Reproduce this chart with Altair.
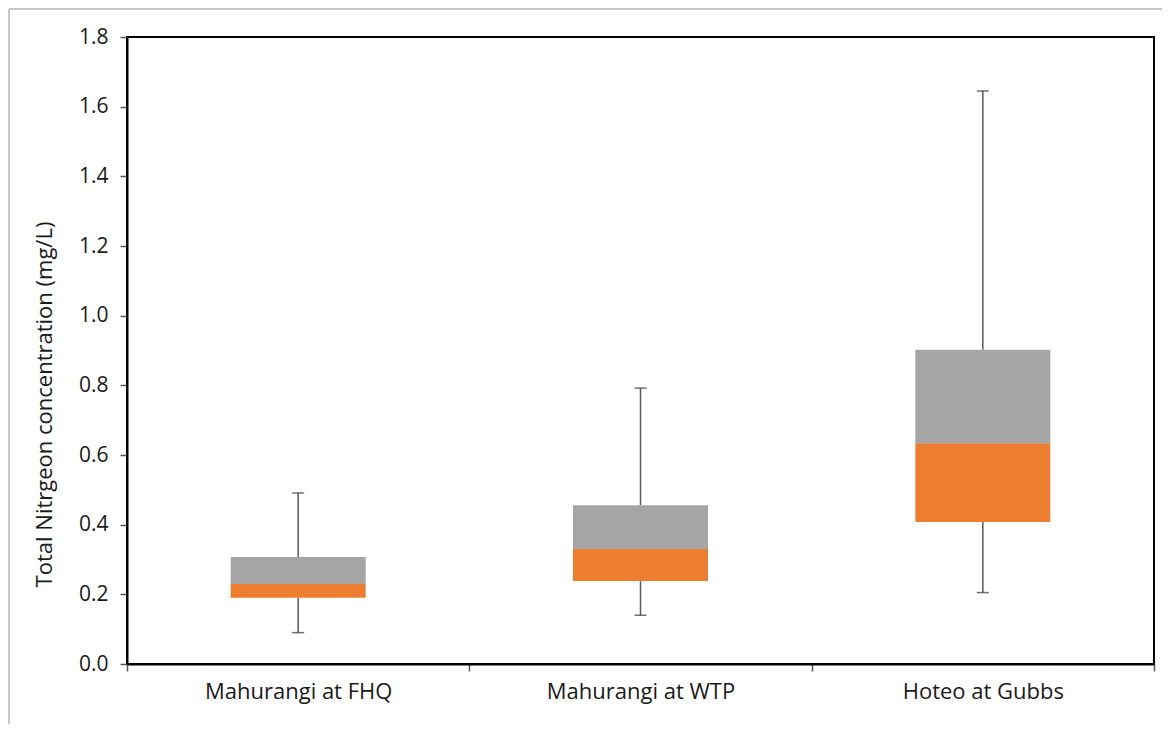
import altair as alt
import pandas as pd

sites = ["Mahurangi at FHQ", "Mahurangi at WTP", "Hoteo at Gubbs"]
mins = [0.09, 0.14, 0.205]
q1s = [0.19, 0.238, 0.408]
medians = [0.23, 0.33, 0.634]
q3s = [0.307, 0.456, 0.902]
maxs = [0.491, 0.792, 1.645]

df = pd.DataFrame({"site": sites, "min": mins, "q1": q1s, "median": medians,
                   "q3": q3s, "max": maxs})

FONT = "Open Sans"
x = alt.X("site:N", sort=sites, title=None,
          scale=alt.Scale(paddingInner=0, paddingOuter=0),
          axis=alt.Axis(labelAngle=0, labelFontSize=22, labelFont=FONT, labelColor="#1a1a1a",
                        labelPadding=10, labelLimit=400, tickBand="extent", tickSize=7,
                        tickColor="#555555", tickWidth=1.5, domainColor="black",
                        domainWidth=2))
yscale = alt.Scale(domain=[0, 1.8], nice=False)
yaxis = alt.Axis(values=[0, 0.2, 0.4, 0.6, 0.8, 1.0, 1.2, 1.4, 1.6, 1.8], format=".1f",
                 labelFontSize=21, labelFont=FONT, labelColor="#1a1a1a", labelPadding=12,
                 tickSize=7, tickColor="#555555", tickWidth=1.5, domainColor="black",
                 domainWidth=2, grid=False, titleFont=FONT, titleFontSize=22,
                 titleFontWeight="normal", titleColor="#1a1a1a", titleLimit=600,
                 titleX=-83, titleY=367, titleBaseline="middle")

base = alt.Chart(df)
whisker_lo = base.mark_rule(color="#595959", strokeWidth=1.5).encode(
    x=x, y=alt.Y("min:Q", scale=yscale, axis=yaxis,
                 title="Total Nitrgeon concentration (mg/L)"), y2="q1:Q")
whisker_hi = base.mark_rule(color="#595959", strokeWidth=1.5).encode(
    x=x, y=alt.Y("q3:Q", scale=yscale), y2="max:Q")
box_lo = base.mark_bar(color="#ED7D31", size=135).encode(
    x=x, y=alt.Y("q1:Q", scale=yscale), y2="median:Q")
box_hi = base.mark_bar(color="#A5A5A5", size=135).encode(
    x=x, y=alt.Y("median:Q", scale=yscale), y2="q3:Q")
cap_lo = base.mark_tick(color="#333333", size=12, thickness=1.5, orient="horizontal").encode(
    x=x, y=alt.Y("min:Q", scale=yscale))
cap_hi = base.mark_tick(color="#333333", size=12, thickness=1.5, orient="horizontal").encode(
    x=x, y=alt.Y("max:Q", scale=yscale))

# light frame edges of the figure (left and top), decorative
frame_left = alt.Chart(pd.DataFrame({"k": [0]})).mark_rule(
    color="#c8c8c8", strokeWidth=2, clip=False).encode(
    x=alt.value(-118), y=alt.value(-28), y2=alt.value(690))
frame_top = alt.Chart(pd.DataFrame({"k": [0]})).mark_rule(
    color="#c8c8c8", strokeWidth=2, clip=False).encode(
    x=alt.value(-118), x2=alt.value(1040), y=alt.value(-28))

chart = alt.layer(frame_left, frame_top, whisker_lo, whisker_hi, box_lo, box_hi,
                  cap_lo, cap_hi).properties(
    width=1027, height=627, autosize="none",
    padding={"left": 119, "top": 29, "right": 8, "bottom": 60},
).configure(background="white").configure_view(stroke="black", strokeWidth=2)

chart.save("out.html", embed_options={"renderer": "svg", "actions": False})
